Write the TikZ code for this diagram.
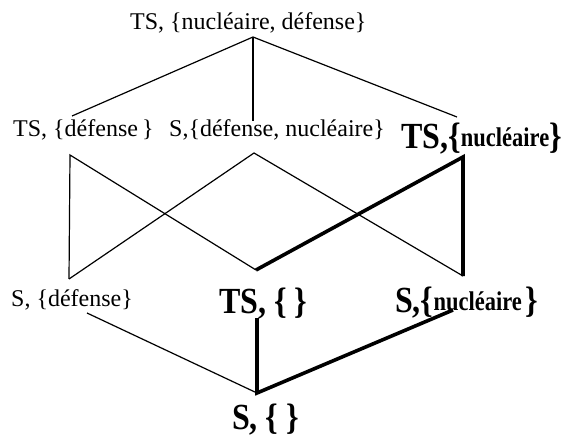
\documentclass[tikz,border=0pt]{standalone}
\usepackage{graphicx}
\usepackage{fontspec}
\setmainfont{Liberation Serif}
\begin{document}
\begin{tikzpicture}[x=1pt,y=-1pt,
  thinln/.style={line width=1.2pt},
  thickln/.style={line width=3.6pt, line join=miter},
  reg/.style={font=\fontsize{24}{28}\selectfont, inner sep=0pt, anchor=base west},
  bold/.style={font=\fontsize{32}{36}\selectfont\bfseries, inner sep=0pt, anchor=base west}]
\useasboundingbox (0,0) rectangle (564,438);
\newcommand{\smallbold}[1]{\raisebox{2pt}{\scalebox{1}[1.2]{\fontsize{22.5}{26}\selectfont\bfseries #1}}}
\newcommand{\tallbox}[1]{\scalebox{1}[1.15]{#1}}
% text nodes
\node[reg] (top) at (130,30) {TS, \{nucléaire,\ défense\}};
\node[reg] (tsd) at (13,137) {TS, \{défense\,\}};
\node[reg] (sdn) at (169,137) {S,\{défense,\ nucléaire\}};
\node[bold] (tsn) at (401,149) {\tallbox{TS,\{}\smallbold{nucléaire}\kern0.5pt\tallbox{\}}};
\node[reg] (sd) at (11,306) {S, \{défense\}};
\node[bold] (ts0) at (219,313) {\tallbox{TS, \{ \}}};
\node[bold] (sn) at (395,312) {\tallbox{S,\{}\smallbold{nucléaire}\kern4pt\tallbox{\}}};
\node[bold] (s0) at (232,429) {\tallbox{S, \{ \}}};
% connection points
\coordinate (topB) at (253,37);
\coordinate (tsdT) at (72,116);  \coordinate (tsdB) at (70,155);
\coordinate (sdnT) at (253,121); \coordinate (sdnB) at (254,153);
\coordinate (tsnT) at (457,117); \coordinate (tsnB) at (463,157);
\coordinate (sdT) at (69,279);   \coordinate (sdB) at (87,313);
\coordinate (ts0T) at (256,270); \coordinate (ts0B) at (257,318);
\coordinate (snT) at (463,276);  \coordinate (snB) at (453,310);
\coordinate (s0T) at (257,393);
% thin connectors
\draw[thinln] (tsdT) -- (topB) -- (tsnT);
\draw[thinln] (topB) -- (sdnT);
\draw[thinln] (sdT) -- (tsdB) -- (ts0T);
\draw[thinln] (sdT) -- (sdnB) -- (snT);
\draw[thinln] (sdB) -- (s0T);
% thick connectors
\draw[thickln] (ts0T) -- (tsnB) -- (snT);
\draw[thickln] (ts0B) -- (s0T) -- (snB);
\end{tikzpicture}
\end{document}
